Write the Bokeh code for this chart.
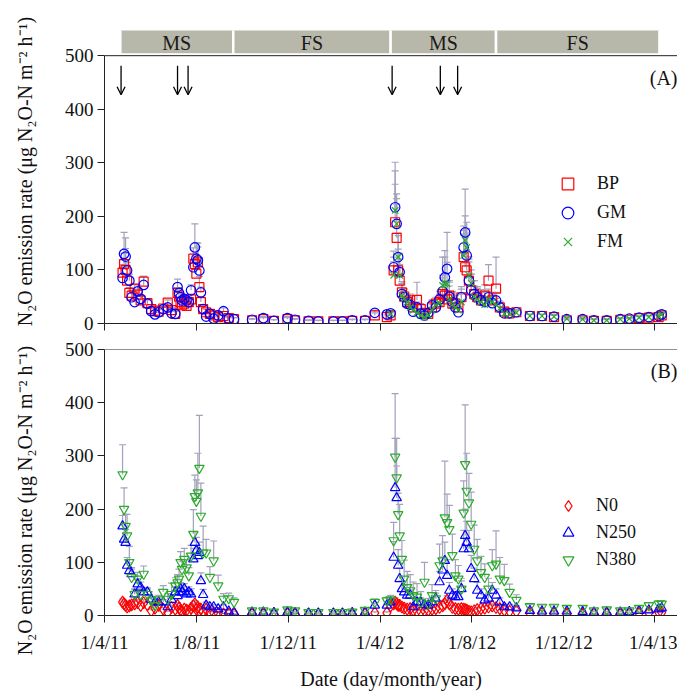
import numpy as np
import pandas as pd
from bokeh.plotting import figure
from bokeh.models import (ColumnDataSource, Range1d, Whisker, TeeHead, Arrow, OpenHead,
                          Label, Legend, LegendItem, FixedTicker, Span)
from bokeh.layouts import column, row
from bokeh.embed import file_html
from bokeh.resources import INLINE
from bokeh.core.properties import value

# ---------------- data ----------------
DATES = [
    # 2011 maize season
    "2011-04-25", "2011-04-27", "2011-04-29", "2011-05-01", "2011-05-04", "2011-05-07", "2011-05-11",
    "2011-05-15", "2011-05-19", "2011-05-23", "2011-05-28", "2011-06-02", "2011-06-07", "2011-06-12",
    "2011-06-18", "2011-06-24", "2011-06-29", "2011-07-04", "2011-07-07", "2011-07-09", "2011-07-11",
    "2011-07-13", "2011-07-16", "2011-07-19", "2011-07-22", "2011-07-25", "2011-07-28", "2011-07-30",
    "2011-08-01", "2011-08-03", "2011-08-05", "2011-08-07", "2011-08-10", "2011-08-14", "2011-08-19",
    "2011-08-24", "2011-08-30", "2011-09-06", "2011-09-13", "2011-09-20",
    # 2011-12 fallow season
    "2011-10-14", "2011-10-29", "2011-11-12", "2011-11-30", "2011-12-10", "2011-12-28", "2012-01-10",
    "2012-01-30", "2012-02-11", "2012-02-24", "2012-03-12", "2012-03-25", "2012-04-10",
    # 2012 maize season
    "2012-04-15", "2012-04-19", "2012-04-21", "2012-04-23", "2012-04-25", "2012-04-27", "2012-04-30",
    "2012-05-03", "2012-05-07", "2012-05-11", "2012-05-15", "2012-05-20", "2012-05-25", "2012-05-30",
    "2012-06-04", "2012-06-09", "2012-06-14", "2012-06-19", "2012-06-23", "2012-06-26", "2012-06-29",
    "2012-07-02", "2012-07-06", "2012-07-10", "2012-07-14", "2012-07-18", "2012-07-21", "2012-07-23",
    "2012-07-25", "2012-07-28", "2012-07-31", "2012-08-04", "2012-08-08", "2012-08-13", "2012-08-18",
    "2012-08-23", "2012-08-28", "2012-09-02", "2012-09-07", "2012-09-13", "2012-09-20", "2012-09-29",
    # 2012-13 fallow season
    "2012-10-17", "2012-11-02", "2012-11-18", "2012-12-05", "2012-12-26", "2013-01-10", "2013-01-27",
    "2013-02-14", "2013-02-26", "2013-03-11", "2013-03-24", "2013-04-06", "2013-04-10",
]
FM_DATES = DATES[53:]

BP = [95, 111, 100, 80, 57, 52, 65, 54, 43, 78, 38, 27, 24, 22, 28, 39, 25, 18, 57, 50,
      40, 35, 37, 33, 40, 45, 121, 111, 93, 114, 68, 40, 27, 21, 18, 15, 12, 14, 10, 8,
      6, 8, 5, 8, 6, 4, 4, 4, 4, 5, 5, 15, 12,
      15, 99, 189, 160, 99, 80, 58, 50, 40, 43, 30, 44, 27, 20, 18, 30, 37, 40, 55, 52, 45,
      52, 37, 37, 30, 49, 124, 105, 99, 80, 62, 55, 49, 43, 52, 80, 43, 65, 30, 22, 19, 21,
      14, 14, 12, 6, 6, 5, 5, 7, 7, 10, 11, 12, 15]
GM = [85, 130, 125, 99, 80, 49, 40, 60, 46, 72, 37, 23, 17, 21, 27, 30, 19, 18, 68, 57,
      49, 43, 46, 43, 40, 62, 105, 142, 121, 118, 99, 58, 27, 13, 18, 9, 15, 23, 9, 8,
      7, 10, 5, 10, 7, 5, 4, 4, 4, 6, 6, 20, 17,
      19, 105, 217, 186, 124, 96, 55, 49, 37, 35, 22, 30, 18, 15, 20, 34, 30, 45, 60, 86, 102,
      50, 40, 30, 21, 49, 142, 170, 127, 80, 62, 55, 49, 43, 40, 49, 38, 43, 30, 19, 19, 21,
      14, 14, 13, 8, 8, 6, 6, 8, 9, 11, 12, 14, 17]
FM = [18, 90, 211, 186, 124, 90, 52, 46, 40, 30, 25, 20, 15, 12, 15, 25, 35, 38, 71, 74, 74,
      45, 35, 30, 25, 40, 127, 155, 142, 90, 75, 50, 45, 40, 35, 45, 40, 35, 28, 18, 17, 20,
      14, 14, 13, 9, 8, 6, 6, 8, 9, 11, 12, 14, 17]

BP_ERR = [15, 20, 40, 12, 10, 10, 8, 10, 8, 10, 6, 5, 5, 5, 6, 5, 5, 5, 10, 12,
          8, 8, 6, 6, 6, 10, 20, 15, 25, 36, 20, 10, 8, 6, 5, 4, 4, 4, 3, 3,
          2, 3, 2, 3, 2, 2, 2, 2, 2, 2, 2, 5, 4,
          5, 25, 71, 63, 40, 30, 20, 15, 12, 12, 10, 33, 10, 8, 8, 12, 12, 15, 30, 40, 35,
          25, 20, 15, 10, 20, 50, 60, 70, 40, 30, 25, 20, 20, 20, 30, 15, 59, 12, 8, 6, 5,
          3, 3, 3, 2, 2, 2, 2, 2, 2, 3, 3, 3, 4]
GM_ERR = [20, 40, 35, 15, 12, 10, 8, 12, 8, 16, 8, 5, 4, 5, 5, 6, 5, 5, 15, 10,
          8, 6, 8, 8, 8, 10, 15, 44, 30, 25, 15, 10, 8, 6, 5, 4, 4, 6, 3, 3,
          2, 3, 2, 3, 2, 2, 2, 2, 2, 2, 2, 5, 4,
          5, 30, 84, 56, 45, 35, 20, 15, 12, 10, 8, 10, 8, 6, 6, 10, 10, 15, 30, 50, 68,
          30, 20, 15, 10, 15, 40, 81, 50, 35, 30, 25, 20, 20, 18, 15, 15, 15, 10, 8, 6, 5,
          3, 3, 3, 2, 2, 2, 2, 2, 2, 3, 3, 3, 4]
FM_ERR = [5, 25, 74, 47, 40, 30, 20, 15, 12, 10, 8, 8, 6, 6, 6, 10, 10, 15, 53, 50, 40,
          25, 20, 15, 10, 15, 40, 46, 47, 35, 25, 20, 20, 18, 15, 15, 15, 12, 10, 8, 6, 5,
          3, 3, 3, 2, 2, 2, 2, 2, 2, 3, 3, 3, 4]

N0 = [25, 22, 19, 16, 18, 20, 22, 24, 19, 24, 20, 9, 14, 19, 12, 6, 15, 12, 19, 14,
      10, 8, 12, 10, 7, 14, 18, 22, 12, 16, 9, 12, 8, 12, 6, 5, 4, 3, 3, 2,
      3, 3, 3, 3, 3, 2, 2, 2, 2, 2, 3, 5, 5,
      18, 22, 25, 22, 19, 19, 16, 14, 12, 13, 10, 8, 7, 9, 10, 12, 13, 15, 18, 22, 29,
      22, 15, 13, 12, 13, 12, 11, 10, 8, 7, 9, 11, 13, 14, 16, 18, 15, 13, 10, 8, 8,
      4, 4, 4, 3, 3, 3, 3, 3, 4, 4, 5, 6, 6]
N250 = [168, 143, 137, 94, 84, 78, 40, 59, 53, 44, 44, 30, 25, 25, 25, 16, 30, 44, 37, 44,
        50, 44, 50, 40, 44, 40, 106, 137, 122, 112, 118, 65, 39, 19, 16, 16, 12, 16, 8, 6,
        6, 6, 5, 6, 5, 4, 4, 4, 4, 5, 6, 19, 19,
        25, 109, 240, 221, 94, 69, 50, 44, 38, 38, 16, 25, 25, 20, 19, 25, 32, 63, 85, 103, 75,
        47, 38, 35, 35, 50, 125, 150, 137, 125, 88, 69, 47, 38, 29, 32, 47, 38, 25, 16, 16, 14,
        9, 8, 8, 8, 7, 6, 6, 6, 7, 9, 10, 12, 14]
N380 = [265, 200, 168, 150, 100, 72, 40, 69, 40, 78, 40, 28, 19, 30, 44, 31, 40, 56, 62, 69,
        100, 87, 106, 90, 75, 112, 153, 224, 215, 231, 277, 187, 118, 118, 72, 103, 56, 31, 32, 25,
        9, 9, 7, 11, 9, 6, 6, 6, 6, 7, 10, 25, 28,
        30, 141, 298, 259, 190, 150, 106, 69, 53, 47, 38, 35, 25, 63, 22, 38, 32, 94, 103, 184, 175,
        162, 113, 75, 69, 50, 193, 284, 234, 212, 172, 125, 103, 81, 72, 50, 94, 97, 69, 66, 44, 29,
        17, 16, 16, 14, 14, 9, 11, 9, 9, 14, 19, 22, 22]

N0_ERR = [6, 5, 5, 4, 4, 5, 5, 6, 4, 6, 5, 3, 4, 5, 3, 2, 4, 3, 5, 4,
          3, 3, 4, 3, 2, 4, 5, 6, 4, 5, 3, 4, 3, 4, 2, 2, 2, 1, 1, 1,
          1, 1, 1, 1, 1, 1, 1, 1, 1, 1, 1, 2, 2,
          4, 6, 8, 6, 5, 5, 4, 4, 3, 3, 3, 2, 2, 2, 3, 3, 3, 4, 5, 6, 8,
          6, 4, 3, 3, 3, 3, 3, 3, 2, 2, 2, 3, 3, 4, 4, 5, 4, 3, 3, 2, 2,
          1, 1, 1, 1, 1, 1, 1, 1, 1, 1, 1, 2, 2]
N250_ERR = [20, 30, 25, 15, 15, 12, 8, 10, 10, 8, 8, 6, 5, 5, 5, 4, 6, 10, 10, 10,
            12, 10, 10, 8, 10, 10, 20, 20, 25, 20, 20, 15, 10, 6, 4, 4, 3, 4, 2, 2,
            2, 2, 2, 2, 2, 1, 1, 1, 1, 2, 2, 4, 4,
            5, 30, 93, 60, 30, 20, 15, 12, 10, 10, 5, 8, 8, 6, 6, 8, 10, 20, 25, 35, 30,
            15, 12, 10, 10, 15, 35, 50, 40, 35, 25, 20, 15, 12, 10, 10, 15, 12, 8, 5, 5, 4,
            3, 2, 2, 2, 2, 2, 2, 2, 2, 3, 3, 3, 4]
N380_ERR = [56, 40, 22, 40, 30, 15, 10, 12, 10, 15, 10, 8, 6, 8, 12, 10, 21, 15, 15, 18,
            20, 15, 20, 15, 15, 20, 46, 40, 40, 74, 99, 62, 50, 25, 20, 37, 20, 10, 10, 8,
            3, 3, 2, 3, 3, 2, 2, 2, 2, 2, 3, 6, 6,
            8, 34, 119, 74, 40, 59, 35, 35, 30, 30, 25, 25, 20, 37, 10, 20, 15, 40, 47, 106, 53,
            45, 40, 30, 25, 20, 60, 112, 71, 55, 60, 45, 40, 30, 25, 20, 30, 62, 40, 30, 15, 10,
            4, 4, 4, 4, 4, 3, 3, 3, 3, 4, 5, 6, 6]

SEASONS = ["MS", "FS", "MS", "FS"]
SEASON_START = ["2011-04-22", "2011-09-19", "2012-04-15", "2012-09-02"]
SEASON_END = ["2011-09-19", "2012-04-15", "2012-09-02", "2013-04-07"]
FERT_DATES = ["2011-04-23", "2011-07-07", "2011-07-21", "2012-04-17", "2012-06-20", "2012-07-13"]

TICK_DATES = ["2011-04-01", "2011-08-01", "2011-12-01", "2012-04-01", "2012-08-01", "2012-12-01", "2013-04-01"]
TICK_LABELS = ["1/4/11", "1/8/11", "1/12/11", "1/4/12", "1/8/12", "1/12/12", "1/4/13"]
Y_TICKS = [0, 100, 200, 300, 400, 500]
X_START, X_END = "2011-04-01", "2013-05-01"
Y_MAX = 500
Y_TOP_A = 547            # panel A's frame runs up through the season band
SEASON_Y0, SEASON_Y1 = 502, 547
ARROW_FROM, ARROW_TO = 481, 427

# ---------------- style ----------------
FONT = "Liberation Serif"
RED, BLUE, GREEN = "#ff0000", "#0000ff", "#2aab2a"
ERR_C = "#a2a2bc"
BOX_C = "#b8b8aa"
AX_C = "#222222"
LABEL_W = 48
W = 677 - LABEL_W
LEFT = 56
TOTAL_H = 692
H_A = 336
H_B = TOTAL_H - H_A

x_range = Range1d(pd.Timestamp(X_START), pd.Timestamp(X_END))
tick_ms = [pd.Timestamp(t).value // 10**6 for t in TICK_DATES]
overrides = {int(t): lab for t, lab in zip(tick_ms, TICK_LABELS)}
YLABEL = "N\u2082O emission rate (\u03bcg N\u2082O-N m\u207b\u00b2 h\u207b\u00b9)"


def src(dates, vals, errs):
    return ColumnDataSource(dict(x=pd.to_datetime(dates), y=vals,
                                 upper=[v + e for v, e in zip(vals, errs)]))


def panel(height, y_top, top, bottom, show_labels):
    p = figure(width=W, height=height, x_axis_type="datetime", x_range=x_range,
               y_range=Range1d(0, y_top), output_backend="svg", toolbar_location=None,
               min_border_left=LEFT, min_border_right=0, min_border_top=top,
               min_border_bottom=bottom)
    p.outline_line_color = None
    p.grid.visible = False
    p.add_layout(Span(location=Y_MAX, dimension="width", line_color=AX_C, line_width=1))
    for ax in (p.xaxis[0], p.yaxis[0]):
        ax.axis_line_color = AX_C
        ax.major_tick_line_color = AX_C
        ax.major_tick_in = 0
        ax.major_tick_out = 7
        ax.minor_tick_line_color = None
        ax.major_label_text_font = FONT
        ax.major_label_text_font_size = "19px"
        ax.major_label_text_color = "#111111"
    p.xaxis.ticker = FixedTicker(ticks=tick_ms)
    p.xaxis.major_label_overrides = overrides
    if show_labels:
        p.xaxis.major_label_standoff = 9
        p.xaxis.axis_label = "Date (day/month/year)"
        p.xaxis.axis_label_standoff = 12
        p.xaxis.axis_label_text_font = FONT
        p.xaxis.axis_label_text_font_size = "20px"
        p.xaxis.axis_label_text_font_style = "normal"
        p.xaxis.axis_label_text_color = "#111111"
    else:
        p.xaxis.major_label_text_font_size = "1px"
        p.xaxis.major_label_text_color = None
        p.xaxis.major_label_standoff = 0
    p.yaxis.ticker = FixedTicker(ticks=Y_TICKS)
    p.yaxis.bounds = (0, Y_MAX)
    p.yaxis.major_label_standoff = 4
    return p


def add_errors(p, source):
    p.add_layout(Whisker(base="x", upper="upper", lower="y", source=source, dimension="height",
                         line_color=ERR_C, line_width=1.2,
                         upper_head=TeeHead(size=7, line_color=ERR_C, line_width=1.2),
                         lower_head=None))


def draw_markers(p, source, marker, color, size):
    return p.scatter("x", "y", source=source, marker=marker, size=size,
                     fill_color=None, line_color=color, line_width=1.2)


# ---------------- y-axis titles (own narrow canvas so they can run past the panels) ----------------
pl = figure(width=LABEL_W, height=TOTAL_H, output_backend="svg", toolbar_location=None,
            x_axis_location=None, y_axis_location=None, min_border=0,
            x_range=Range1d(0, 1), y_range=Range1d(0, 1))
pl.outline_line_color = None
pl.grid.visible = False
for yc in (TOTAL_H - 171, TOTAL_H - 500):
    pl.add_layout(Label(x=24, y=yc, x_units="screen", y_units="screen", text=YLABEL,
                        angle=np.pi / 2, text_align="center", text_baseline="middle",
                        text_font=FONT, text_font_size="20px", text_color="#111111"))

# ---------------- panel A ----------------
pa = panel(H_A, Y_TOP_A, 30, 13, False)
s_start = pd.to_datetime(SEASON_START)
s_end = pd.to_datetime(SEASON_END)
season_src = ColumnDataSource(dict(left=s_start, right=s_end, mid=s_start + (s_end - s_start) / 2,
                                   name=SEASONS))
pa.quad(left="left", right="right", bottom=SEASON_Y0, top=SEASON_Y1 + 5, source=season_src,
        fill_color=BOX_C, line_color="white", line_width=2.5)
pa.text(x="mid", y=(SEASON_Y0 + SEASON_Y1) / 2, text="name", source=season_src, text_align="center",
        text_baseline="middle", text_font=value(FONT), text_font_size=value("20px"),
        text_color="#1a1a1a")

sets_a = [
    (src(DATES, BP, BP_ERR), "square", RED, 9, "BP"),
    (src(DATES, GM, GM_ERR), "circle", BLUE, 9.5, "GM"),
    (src(FM_DATES, FM, FM_ERR), "x", GREEN, 9, "FM"),
]
for s, m, c, sz, _ in sets_a:
    add_errors(pa, s)
items_a = []
for s, m, c, sz, name in sets_a:
    r = draw_markers(pa, s, m, c, sz)
    items_a.append(LegendItem(label=name, renderers=[r]))

fert_src = ColumnDataSource(dict(x=pd.to_datetime(FERT_DATES), y0=[ARROW_FROM] * len(FERT_DATES),
                                 y1=[ARROW_TO] * len(FERT_DATES)))
pa.add_layout(Arrow(end=OpenHead(size=8, line_width=1.3, line_color="black"),
                    x_start="x", y_start="y0", x_end="x", y_end="y1", source=fert_src,
                    line_color="black", line_width=1.3))
pa.add_layout(Label(x=573, y=246, x_units="screen", y_units="screen", text="(A)",
                    text_align="right", text_baseline="middle", text_font=FONT,
                    text_font_size="20px", text_color="#111111"))
leg_a = Legend(items=items_a, location=(449, 67), glyph_width=29, glyph_height=29, spacing=0,
               label_standoff=15, padding=0, margin=0, border_line_color=None,
               background_fill_alpha=0, label_text_font=FONT, label_text_font_size="18px",
               label_text_color="#111111")
pa.add_layout(leg_a)

# ---------------- panel B ----------------
pb = panel(H_B, Y_MAX, 13, H_B - 268 - 13, True)
sets_b = [
    (src(DATES, N0, N0_ERR), "diamond", RED, 12, "N0"),
    (src(DATES, N250, N250_ERR), "triangle", BLUE, 9.5, "N250"),
    (src(DATES, N380, N380_ERR), "inverted_triangle", GREEN, 9.5, "N380"),
]
for s, m, c, sz, _ in sets_b:
    add_errors(pb, s)
items_b = []
for s, m, c, sz, name in sets_b:
    r = draw_markers(pb, s, m, c, sz)
    items_b.append(LegendItem(label=name, renderers=[r]))
pb.add_layout(Label(x=573, y=245, x_units="screen", y_units="screen", text="(B)",
                    text_align="right", text_baseline="middle", text_font=FONT,
                    text_font_size="20px", text_color="#111111"))
leg_b = Legend(items=items_b, location=(450, 42), glyph_width=28, glyph_height=27, spacing=0,
               label_standoff=14, padding=0, margin=0, border_line_color=None,
               background_fill_alpha=0, label_text_font=FONT, label_text_font_size="18px",
               label_text_color="#111111")
pb.add_layout(leg_b)

layout = row(pl, column(pa, pb, spacing=0), spacing=0)
open("out.html", "w").write(file_html(layout, INLINE))
